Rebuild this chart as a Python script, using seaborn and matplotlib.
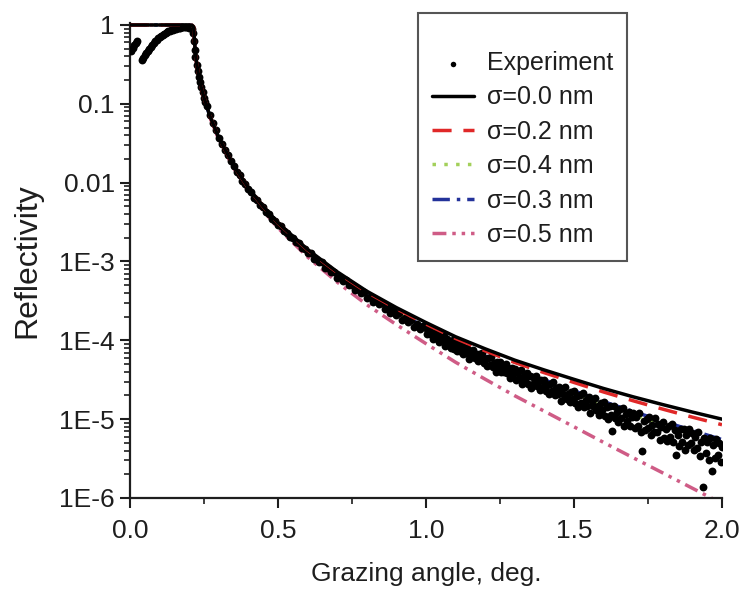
import numpy as np
import pandas as pd
import matplotlib
matplotlib.use("Agg")
import matplotlib.pyplot as plt
import seaborn as sns
from matplotlib.ticker import LogLocator, MultipleLocator, NullFormatter

# ---------------- data ----------------
# model curves (grazing angle in degrees)
model_angle = [0.0, 0.1, 0.2, 0.21, 0.215, 0.218, 0.222, 0.226, 0.23, 0.24, 0.25, 0.27,
               0.3, 0.35, 0.4, 0.45, 0.5, 0.6, 0.7, 0.8, 0.9, 1.0, 1.1, 1.2, 1.3, 1.4,
               1.5, 1.6, 1.7, 1.8, 1.9, 2.0]
sigma_00 = [1.0, 1.0, 1.0, 0.99, 0.95, 0.6, 0.40, 0.31, 0.25, 0.165, 0.12, 0.07,
            0.037, 0.0165, 0.0086, 0.0050, 0.0031, 0.00142, 7.4e-4, 4.2e-4, 2.6e-4, 1.68e-4,
            1.11e-4, 7.8e-5, 5.6e-5, 4.2e-5, 3.2e-5, 2.45e-5, 1.92e-5, 1.53e-5, 1.23e-5, 1.0e-5]
sigma_02 = [1.0, 1.0, 1.0, 0.99, 0.95, 0.6, 0.40, 0.31, 0.25, 0.165, 0.12, 0.07,
            0.0369, 0.0164, 0.00854, 0.00496, 0.00307, 0.0014, 7.25e-4, 4.09e-4, 2.52e-4, 1.61e-4,
            1.057e-4, 7.36e-5, 5.23e-5, 3.88e-5, 2.92e-5, 2.21e-5, 1.71e-5, 1.34e-5, 1.06e-5, 8.5e-6]
sigma_04 = [1.0, 1.0, 1.0, 0.99, 0.95, 0.6, 0.40, 0.31, 0.25, 0.164, 0.119, 0.069,
            0.0364, 0.0161, 0.00835, 0.00482, 0.00296, 0.00133, 6.76e-4, 3.74e-4, 2.24e-4, 1.40e-4,
            8.89e-5, 5.99e-5, 4.11e-5, 2.94e-5, 2.12e-5, 1.53e-5, 1.13e-5, 8.46e-6, 6.36e-6, 4.81e-6]
sigma_03 = [1.0, 1.0, 1.0, 0.99, 0.95, 0.6, 0.40, 0.31, 0.25, 0.164, 0.119, 0.069,
            0.0365, 0.0162, 0.00839, 0.00485, 0.00299, 0.00135, 6.88e-4, 3.82e-4, 2.30e-4, 1.45e-4,
            9.27e-5, 6.29e-5, 4.35e-5, 3.14e-5, 2.29e-5, 1.67e-5, 1.25e-5, 9.44e-6, 7.18e-6, 5.51e-6]
sigma_05 = [1.0, 1.0, 1.0, 0.99, 0.94, 0.59, 0.39, 0.30, 0.24, 0.158, 0.115, 0.067,
            0.035, 0.0153, 0.00779, 0.00442, 0.00266, 0.00114, 5.47e-4, 2.83e-4, 1.58e-4, 9.07e-5,
            5.27e-5, 3.21e-5, 1.98e-5, 1.26e-5, 8.0e-6, 5.07e-6, 3.24e-6, 2.08e-6, 1.33e-6, 8.5e-7]

# experiment
exp_low_angle = [0.005, 0.010, 0.015, 0.020, 0.025]
exp_low_R = [0.47, 0.51, 0.55, 0.59, 0.62]

exp_rise_angle = np.round(np.arange(0.040, 0.2101, 0.005), 3)
exp_rise_R = [0.36, 0.38, 0.41, 0.44, 0.47, 0.50, 0.53, 0.56, 0.59, 0.62, 0.65, 0.68,
              0.70, 0.73, 0.75, 0.77, 0.79, 0.81, 0.83, 0.85, 0.86, 0.875, 0.89, 0.90,
              0.91, 0.92, 0.925, 0.93, 0.935, 0.935, 0.935, 0.93, 0.925, 0.915, 0.90]

exp_edge_angle = [0.212, 0.215, 0.218, 0.221, 0.225, 0.229, 0.233, 0.237, 0.241, 0.245,
                  0.250, 0.255, 0.260, 0.270, 0.280, 0.290, 0.300]
exp_edge_R = [0.80, 0.62, 0.48, 0.39, 0.31, 0.26, 0.22, 0.19, 0.165, 0.142,
              0.12, 0.105, 0.093, 0.072, 0.057, 0.046, 0.037]

exp_mid_angle = np.round(np.arange(0.31, 0.9901, 0.01), 3)
exp_mid_R = [0.0311, 0.0256, 0.0226, 0.0187, 0.0164, 0.01368, 0.01247, 0.01062, 0.00973, 0.00820,
             0.00759, 0.00641, 0.00601, 0.00521, 0.00492, 0.00427, 0.00401, 0.00345, 0.00327, 0.00287,
             0.00279, 0.00242, 0.00233, 0.00203, 0.00200, 0.00178, 0.00172, 0.00148, 0.00144, 0.00128,
             0.00127, 0.00109, 0.00109, 9.77e-4, 9.73e-4, 8.24e-4, 8.22e-4, 7.33e-4, 7.33e-4, 6.24e-4,
             6.37e-4, 5.62e-4, 5.81e-4, 5.06e-4, 4.99e-4, 4.32e-4, 4.53e-4, 3.99e-4, 4.07e-4, 3.44e-4,
             3.53e-4, 3.05e-4, 3.25e-4, 2.85e-4, 2.99e-4, 2.50e-4, 2.58e-4, 2.23e-4, 2.39e-4, 2.07e-4,
             2.20e-4, 1.81e-4, 1.92e-4, 1.69e-4, 1.80e-4, 1.48e-4, 1.60e-4, 1.40e-4, 1.50e-4]

exp_high_angle = np.round(np.arange(1.0, 2.0001, 0.005), 3)
exp_high_R = [
    1.43e-4, 1.19e-4, 1.43e-4, 1.19e-4, 1.245e-4, 1.035e-4, 1.274e-4, 1.059e-4, 1.274e-4, 9.66e-5,
    1.109e-4, 1.012e-4, 1.135e-4, 8.41e-5, 1.035e-4, 9.02e-5, 9.23e-5, 8.04e-5, 1.012e-4, 7.85e-5,
    9.20e-5, 7.33e-5, 8.43e-5, 7.38e-5, 8.89e-5, 6.61e-5, 7.60e-5, 6.95e-5, 8.02e-5, 5.82e-5,
    7.35e-5, 6.56e-5, 7.55e-5, 5.89e-5, 6.62e-5, 5.40e-5, 6.65e-5, 5.68e-5, 6.85e-5, 5.09e-5,
    5.86e-5, 4.68e-5, 6.04e-5, 4.93e-5, 6.08e-5, 4.53e-5, 5.09e-5, 3.97e-5, 5.25e-5, 4.49e-5,
    5.28e-5, 3.94e-5, 4.75e-5, 3.96e-5, 5.01e-5, 3.90e-5, 4.30e-5, 3.34e-5, 4.43e-5, 3.69e-5,
    4.36e-5, 3.17e-5, 3.93e-5, 3.28e-5, 4.26e-5, 2.82e-5, 3.49e-5, 3.13e-5, 3.87e-5, 2.82e-5,
    3.49e-5, 2.48e-5, 3.45e-5, 2.88e-5, 3.57e-5, 2.60e-5, 3.00e-5, 2.34e-5, 3.18e-5, 2.54e-5,
    3.14e-5, 2.29e-5, 2.70e-5, 2.07e-5, 2.81e-5, 2.29e-5, 2.97e-5, 2.02e-5, 2.50e-5, 2.09e-5,
    2.59e-5, 1.72e-5, 2.39e-5, 2.05e-5, 2.54e-5, 1.81e-5, 2.08e-5, 1.63e-5, 2.21e-5, 1.81e-5,
    2.29e-5, 1.60e-5, 1.97e-5, 1.44e-5, 2.05e-5, 1.60e-5, 2.17e-5, 1.41e-5, 1.74e-5, 1.46e-5,
    1.89e-5, 1.20e-5, 1.71e-5, 1.46e-5, 1.85e-5, 1.29e-5, 1.49e-5, 1.14e-5, 1.61e-5, 1.29e-5,
    1.67e-5, 1.11e-5, 1.41e-5, 1.00e-5, 1.46e-5, 1.14e-5, 7.10e-6, 1.46e-5, 1.04e-5, 1.23e-5,
    9.18e-6, 1.34e-5, 1.04e-5, 1.39e-5, 8.22e-6, 1.17e-5, 9.38e-6, 1.24e-5, 8.28e-6, 1.05e-5,
    1.21e-5, 7.71e-6, 1.07e-5, 8.20e-6, 1.19e-5, 6.78e-6, 3.93e-6, 9.48e-6, 7.26e-6, 1.01e-5,
    7.71e-6, 1.05e-5, 6.37e-6, 8.45e-6, 6.78e-6, 1.03e-5, 6.87e-6, 8.73e-6, 5.42e-6, 8.07e-6,
    9.14e-6, 5.81e-6, 7.55e-6, 5.26e-6, 8.22e-6, 6.00e-6, 8.75e-6, 5.19e-6, 7.21e-6, 3.56e-6,
    6.38e-6, 4.56e-6, 7.45e-6, 5.20e-6, 7.57e-6, 4.09e-6, 6.25e-6, 4.67e-6, 7.46e-6, 4.97e-6,
    6.75e-6, 4.01e-6, 5.97e-6, 4.37e-6, 6.81e-6, 3.44e-6, 5.13e-6, 1.39e-6, 5.85e-6, 3.72e-6,
    5.18e-6, 3.01e-6, 5.78e-6, 2.21e-6, 4.67e-6, 3.18e-6, 5.57e-6, 3.54e-6, 4.93e-6, 2.86e-6,
    4.47e-6]

y_ticks = [1, 0.1, 0.01, 1e-3, 1e-4, 1e-5, 1e-6]
y_tick_labels = ["1", "0.1", "0.01", "1E-3", "1E-4", "1E-5", "1E-6"]
x_ticks = [0.0, 0.5, 1.0, 1.5, 2.0]
x_tick_labels = ["0.0", "0.5", "1.0", "1.5", "2.0"]

# ---------------- plotting ----------------
sns.set_theme(style="ticks")
plt.rcParams["font.family"] = ["Liberation Sans", "DejaVu Sans"]
FS = 19
LFS = 18
INK = "#1e1e1e"

exp_df = pd.DataFrame({
    "angle": np.concatenate([exp_low_angle, exp_rise_angle, exp_edge_angle,
                             exp_mid_angle, exp_high_angle]),
    "R": np.concatenate([exp_low_R, exp_rise_R, exp_edge_R, exp_mid_R, exp_high_R]),
})

fig = plt.figure(figsize=(7.45, 5.91), dpi=100)
ax = fig.add_axes([130 / 745, 1 - 498 / 591, 592 / 745, (498 - 23.3) / 591])
ax.set_yscale("log")

lw = 2.5
curves = [
    ("σ=0.4 nm", sigma_04, "#a3d05a", (0, (1.0, 2.4)), 2),
    ("σ=0.3 nm", sigma_03, "#23329a", (0, (5, 2, 1, 2)), 2),
    ("σ=0.5 nm", sigma_05, "#cf5c86", (0, (4, 1.7, 1, 1.7, 1, 1.7)), 2),
    ("σ=0.2 nm", sigma_02, "#e02828", (0, (5.5, 3.4)), 4),
    ("σ=0.0 nm", sigma_00, "#000000", "-", 4.5),
]

sns.scatterplot(data=exp_df, x="angle", y="R", ax=ax, color="black", s=32,
                linewidth=0, label="Experiment", zorder=3)
for lab, vals, col, ls, z in curves:
    sns.lineplot(x=model_angle, y=vals, ax=ax, color=col, linewidth=lw,
                 linestyle=ls, label=lab, zorder=z)

ax.set_xlim(0, 2.0)
ax.set_ylim(1e-6, 1.05)

ax.set_yticks(y_ticks)
ax.set_yticklabels(y_tick_labels)
ax.yaxis.set_minor_locator(LogLocator(base=10, subs=np.arange(2, 10), numticks=30))
ax.yaxis.set_minor_formatter(NullFormatter())
ax.set_xticks(x_ticks)
ax.set_xticklabels(x_tick_labels)
ax.xaxis.set_minor_locator(MultipleLocator(0.25))

ax.tick_params(which="major", direction="out", length=7, width=1.5, colors=INK,
               labelsize=FS, pad=4)
ax.tick_params(axis="x", which="major", pad=8)
ax.tick_params(which="minor", direction="out", length=4, width=1.2, colors=INK)

sns.despine(ax=ax)
for sp in ["left", "bottom"]:
    ax.spines[sp].set_linewidth(1.6)
    ax.spines[sp].set_color(INK)

ax.set_xlabel("Grazing angle, deg.", fontsize=FS, color=INK, labelpad=14)
ax.set_ylabel("Reflectivity", fontsize=23, color=INK, labelpad=12)

order = ["Experiment", "σ=0.0 nm", "σ=0.2 nm", "σ=0.4 nm", "σ=0.3 nm", "σ=0.5 nm"]
handles, labels = ax.get_legend_handles_labels()
hmap = dict(zip(labels, handles))
leg = ax.legend([hmap[l] for l in order], order, loc="upper left",
                bbox_to_anchor=(418 / 745, 1 - 13 / 591), bbox_transform=fig.transFigure,
                frameon=True, fancybox=False, edgecolor="#555555", framealpha=1,
                fontsize=LFS, handlelength=1.7, handletextpad=0.5, borderpad=0.55,
                labelspacing=0.414, borderaxespad=0, title=" ", title_fontsize=11,
                markerscale=0.7)
leg.get_frame().set_linewidth(1.5)
for t in leg.get_texts():
    t.set_color(INK)

fig.savefig("out.png", dpi=100, facecolor="white")
